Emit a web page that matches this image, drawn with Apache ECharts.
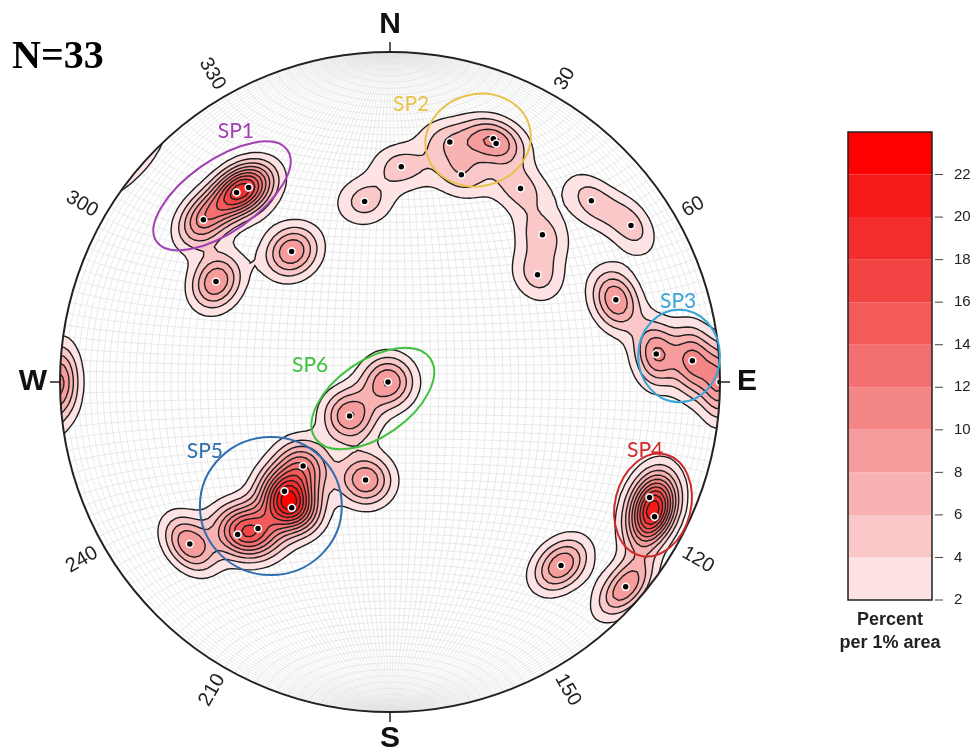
<!DOCTYPE html>
<html><head><meta charset="utf-8">
<script src="https://cdn.jsdelivr.net/npm/echarts@6/dist/echarts.min.js"></script>
<style>html,body{margin:0;padding:0;background:#fff}#c{width:980px;height:754px}</style>
</head><body><div id="c"></div>
<script>
// ---------------- data (trend / plunge in degrees, lower hemisphere) ----------------
const trend  = [324,321,311,323,300, 14,23,24,19,3,352,34,46,54, 48,57, 70,84,86,90, 114,117,137,131, 270,230,194,226,224,218,222,225,231];
const plunge = [28,27,26,49,39,     26,21,22,34,35,44,30,36,44,  19,14, 28,20,9,0,   15,11,25,6,     89.5,77,65,60,52,50,40,35,23];
// number of coincident measurements at each plotted pole (estimated from contour depth)
const weight = [2,2,2,2,2,          1,1,1,1,1,1,1,1,1,           1,1,   2,2,2,2,     2,3,2,2,        2,2,2,2,2,3,2,2,2];
const levels = [2,4,6,8,10,12,14,16,18,20,22];
const colorbarTicks = [2,4,6,8,10,12,14,16,18,20,22];
const bandColors = ['#fde3e3','#fac8c8','#f8b2b2','#f79c9c','#f58686','#f47070','#f35a5a','#f34444','#f42e2e','#f71818','#ff0000'];
const degreeLabels = [30,60,120,150,210,240,300,330];
const cardinals = [['N',0],['E',90],['S',180],['W',270]];
const groupNames = ['SP1','SP2','SP3','SP4','SP5','SP6'];
const groupColors = ['#a23fb3','#e8c24a','#3aa5d6','#cf2b2b','#2f6fae','#3fc23f'];
// annotation layout (net units): ellipse cx, cy, a, b, angle; label x, y
const ellipses = [[-0.509,0.564,0.242,0.109,35],[0.267,0.733,0.161,0.139,15],[0.876,0.079,0.124,0.140,0],[0.797,-0.373,0.158,0.115,76],[-0.361,-0.376,0.215,0.209,0],[-0.052,-0.05,0.212,0.115,35]];
const labelPos = [[-0.467,0.761],[0.064,0.842],[0.873,0.245],[0.773,-0.206],[-0.561,-0.209],[-0.242,0.0515]];

// ---------------- projection helpers ----------------
const D2R = Math.PI/180;
function vec(tr, pl){ const t=tr*D2R, p=pl*D2R; return [Math.cos(p)*Math.sin(t), Math.cos(p)*Math.cos(t), -Math.sin(p)]; }
function proj(v){ let x=v[0],y=v[1],z=v[2]; if(z>0){x=-x;y=-y;z=-z;} const s=Math.sqrt(1-z); return [x/s,y/s]; }
const vecs = trend.map((t,i)=>vec(t,plunge[i]));
const points = vecs.map(proj);

// ---------------- net lines ----------------
const netLines = [];
for (let d=2; d<180; d+=2){
  const g=[], s=[];
  for (let t=0;t<=180;t+=3){
    const tr=t*D2R, dr=d*D2R;
    g.push(proj([Math.sin(tr)*Math.cos(dr), Math.cos(tr), -Math.sin(tr)*Math.sin(dr)]));
    s.push(proj([Math.sin(dr)*Math.cos(tr), Math.cos(dr), -Math.sin(dr)*Math.sin(tr)]));
  }
  netLines.push(g, s);
}

// ---------------- density (axial Fisher kernel) ----------------
const KA = 5, KK = 165;
const NG = 170, L0 = -1.2, STEP = 2.4/NG;
const V = [];
for (let j=0;j<=NG;j++){
  const row=[]; const py=L0+j*STEP;
  for (let i=0;i<=NG;i++){
    const px=L0+i*STEP, r2=px*px+py*py; let dsum=0;
    if (r2 < 1.13*1.13){
      const z=r2-1, s=Math.sqrt(Math.max(0,2-r2)), gx=px*s, gy=py*s;
      vecs.forEach((v,k)=>{ const c=Math.abs(gx*v[0]+gy*v[1]+z*v[2]); dsum += weight[k]*KA*Math.exp(KK*(c-1)); });
    }
    row.push(dsum);
  }
  V.push(row);
}
function loopsAt(Lv){
  const pts=new Map(), segs=[];
  const X=i=>L0+i*STEP;
  function ep(key,x1,y1,v1,x2,y2,v2){ if(!pts.has(key)){ const t=(Lv-v1)/(v2-v1); pts.set(key,[x1+(x2-x1)*t,y1+(y2-y1)*t]); } return key; }
  for (let j=0;j<NG;j++) for (let i=0;i<NG;i++){
    const a=V[j][i], b=V[j][i+1], c=V[j+1][i+1], d=V[j+1][i];
    const idx=(a>=Lv?1:0)|(b>=Lv?2:0)|(c>=Lv?4:0)|(d>=Lv?8:0);
    if (idx===0||idx===15) continue;
    const x0=X(i), x1=X(i+1), y0=X(j), y1=X(j+1);
    const B=()=>ep('h'+i+'_'+j,x0,y0,a,x1,y0,b);
    const Rt=()=>ep('v'+(i+1)+'_'+j,x1,y0,b,x1,y1,c);
    const T=()=>ep('h'+i+'_'+(j+1),x0,y1,d,x1,y1,c);
    const Lf=()=>ep('v'+i+'_'+j,x0,y0,a,x0,y1,d);
    const cen=(a+b+c+d)/4;
    switch(idx){
      case 1: case 14: segs.push([Lf(),B()]); break;
      case 2: case 13: segs.push([B(),Rt()]); break;
      case 3: case 12: segs.push([Lf(),Rt()]); break;
      case 4: case 11: segs.push([Rt(),T()]); break;
      case 6: case 9: segs.push([B(),T()]); break;
      case 7: case 8: segs.push([Lf(),T()]); break;
      case 5: if(cen>=Lv){segs.push([B(),Rt()]);segs.push([T(),Lf()]);}else{segs.push([Lf(),B()]);segs.push([Rt(),T()]);} break;
      case 10: if(cen>=Lv){segs.push([Lf(),B()]);segs.push([Rt(),T()]);}else{segs.push([B(),Rt()]);segs.push([T(),Lf()]);} break;
    }
  }
  const adj=new Map();
  segs.forEach((s,k)=>{ for(const e of s){ if(!adj.has(e)) adj.set(e,[]); adj.get(e).push(k);} });
  const used=new Uint8Array(segs.length), loops=[];
  for (let k=0;k<segs.length;k++){
    if(used[k]) continue; used[k]=1;
    const start=segs[k][0]; let cur=segs[k][1]; const loop=[pts.get(start)];
    while(cur!==start){
      loop.push(pts.get(cur));
      let nxt=-1; for(const m of adj.get(cur)){ if(!used[m]){nxt=m;break;} }
      if(nxt<0) break; used[nxt]=1; const s=segs[nxt]; cur = s[0]===cur ? s[1] : s[0];
    }
    if(loop.length>2) loops.push(loop);
  }
  return loops;
}
const loopsByLevel = levels.map(loopsAt);

// ---------------- chart ----------------
const chart = echarts.init(document.getElementById('c'), null, {renderer:'canvas'});
const SANS = 'Liberation Sans, Arial, sans-serif';
chart.setOption({
  animation:false,
  backgroundColor:'#fff',
  grid:[{left:60,top:52,width:660,height:660},{left:848,top:132,width:84,height:468}],
  xAxis:[{gridIndex:0,type:'value',min:-1,max:1,show:false},{gridIndex:1,type:'value',min:0,max:1,show:false}],
  yAxis:[{gridIndex:0,type:'value',min:-1,max:1,show:false},
    {gridIndex:1,type:'value',min:2,max:24,interval:2,position:'right',
     axisLine:{show:false},splitLine:{show:false},axisTick:{show:false},
     axisLabel:{show:true,customValues:colorbarTicks,fontSize:15,color:'#222',margin:22,fontFamily:SANS}}],
  graphic:[
    {type:'text',left:12,top:38,style:{text:'N=33',font:'bold 40px "Liberation Serif", "Times New Roman", serif',fill:'#000'}},
    {type:'text',x:890,y:620,style:{text:'Percent',font:'bold 18px '+SANS,fill:'#222',align:'center',verticalAlign:'middle'}},
    {type:'text',x:890,y:643,style:{text:'per 1% area',font:'bold 18px '+SANS,fill:'#222',align:'center',verticalAlign:'middle'}}
  ],
  series:[
    {type:'custom',xAxisIndex:0,yAxisIndex:0,z:1,silent:true,data:[0],
     renderItem:(p,api)=>{
       const ch=[];
       for(const ln of netLines) ch.push({type:'polyline',shape:{points:ln.map(q=>api.coord(q))},style:{stroke:'#e3e3e3',lineWidth:0.75,fill:null}});
       return {type:'group',children:ch};
     }},
    {type:'custom',xAxisIndex:0,yAxisIndex:0,z:2,silent:true,data:[0],
     renderItem:(p,api)=>{
       const ch=[];
       loopsByLevel.forEach((loops,li)=>loops.forEach(lp=>{
         ch.push({type:'polygon',shape:{points:lp.map(q=>api.coord(q))},style:{fill:bandColors[li],stroke:'#1e1e1e',lineWidth:1.4}});
       }));
       return {type:'group',children:ch};
     }},
    {type:'scatter',xAxisIndex:0,yAxisIndex:0,z:3,clip:false,silent:true,data:points,symbol:'circle',symbolSize:7,
     itemStyle:{color:'#000',borderColor:'#fff',borderWidth:1.5,opacity:1}},
    {type:'custom',xAxisIndex:0,yAxisIndex:0,z:4,silent:true,data:[0],
     renderItem:(p,api)=>{
       const c=api.coord([0,0]); const R=api.size([1,1])[0];
       const ch=[{type:'ring',shape:{cx:c[0],cy:c[1],r:R+90,r0:R},style:{fill:'#fff'}},
                 {type:'circle',shape:{cx:c[0],cy:c[1],r:R},style:{fill:null,stroke:'#222',lineWidth:2}}];
       cardinals.forEach(([t,az])=>{
         const s=Math.sin(az*D2R), co=Math.cos(az*D2R);
         const a=api.coord([s,co]), b=api.coord([s*(1+10/R),co*(1+10/R)]), q=api.coord([s*(1+27/R),co*(1+27/R)]);
         ch.push({type:'line',shape:{x1:a[0],y1:a[1],x2:b[0],y2:b[1]},style:{stroke:'#222',lineWidth:1.5}});
         ch.push({type:'text',x:q[0],y:q[1],style:{text:t,font:'bold 30px '+SANS,fill:'#111',align:'center',verticalAlign:'middle'}});
       });
       degreeLabels.forEach(az=>{
         const s=Math.sin(az*D2R), co=Math.cos(az*D2R), f=1+9/R;
         const q=api.coord([s*f,co*f]);
         const rot=(az<180?90-az:270-az)*D2R;
         ch.push({type:'text',x:q[0],y:q[1],rotation:rot,style:{text:String(az),font:'20px '+SANS,fill:'#222',align:az<180?'left':'right',verticalAlign:'middle'}});
       });
       ellipses.forEach((e,k)=>{
         const cc=api.coord([e[0],e[1]]);
         ch.push({type:'ellipse',x:cc[0],y:cc[1],rotation:e[4]*D2R,shape:{cx:0,cy:0,rx:e[2]*R,ry:e[3]*R},style:{fill:null,stroke:groupColors[k],lineWidth:2}});
         const lp=api.coord(labelPos[k]);
         ch.push({type:'text',x:lp[0],y:lp[1],style:{text:groupNames[k],font:'21px Lato, "Open Sans", sans-serif',fill:groupColors[k],align:'center',verticalAlign:'middle'}});
       });
       return {type:'group',children:ch};
     }},
    {type:'custom',xAxisIndex:1,yAxisIndex:1,z:2,silent:true,data:levels.map((lo,i)=>[lo,lo+2,i]),
     renderItem:(p,api)=>{
       const lo=api.value(0), hi=api.value(1), a=api.coord([0,hi]), b=api.coord([1,lo]);
       return {type:'rect',shape:{x:a[0],y:a[1],width:b[0]-a[0],height:b[1]-a[1]},style:{fill:bandColors[api.value(2)]}};
     }},
    {type:'custom',xAxisIndex:1,yAxisIndex:1,z:3,silent:true,data:[0],
     renderItem:(p,api)=>{
       const a=api.coord([0,24]), b=api.coord([1,2]);
       const ch=[{type:'rect',shape:{x:a[0],y:a[1],width:b[0]-a[0],height:b[1]-a[1]},style:{fill:null,stroke:'#222',lineWidth:1.5}}];
       colorbarTicks.forEach(v=>{ const q=api.coord([1,v]); ch.push({type:'line',shape:{x1:q[0]+3,y1:q[1],x2:q[0]+11,y2:q[1]},style:{stroke:'#444',lineWidth:1}}); });
       return {type:'group',children:ch};
     }}
  ]
});
</script></body></html>
